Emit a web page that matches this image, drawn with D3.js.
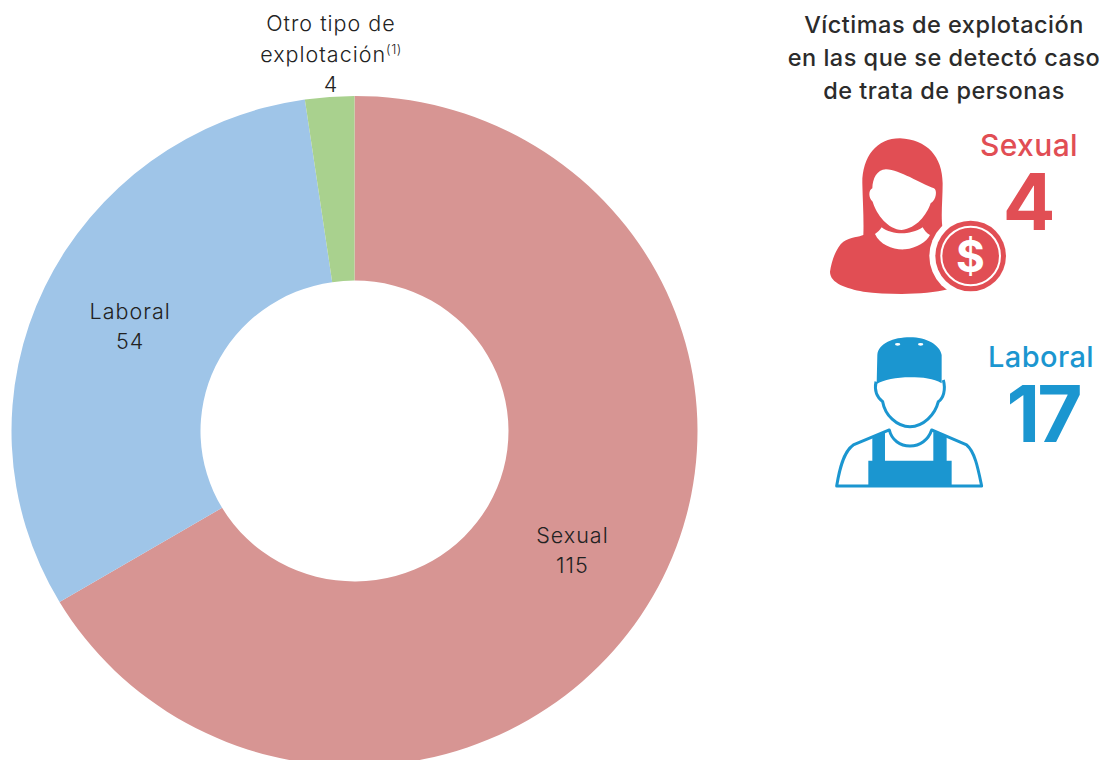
<!DOCTYPE html>
<html lang="es"><head><meta charset="utf-8">
<script src="https://cdn.jsdelivr.net/npm/d3@7"></script>
<style>html,body{margin:0;padding:0;background:#fff}svg{display:block}
text{font-family:Inter,"Noto Sans",sans-serif}</style></head><body>
<svg id="c" width="1100" height="760"></svg>
<script>
const categories = ["Sexual", "Laboral", "Otro tipo de explotación"];
const values = [115, 54, 4];
const sliceColors = ["#d79593", "#9fc5e8", "#a9d18e"];
const panelTitle = ["Víctimas de explotación", "en las que se detectó caso", "de trata de personas"];
const panelLabels = ["Sexual", "Laboral"];
const panelValues = [4, 17];
const panelColors = ["#e14e54", "#1b96d0"];

const svg = d3.select("#c");
const ink = "#222";
const cx = 354.5, cy = 431, R = 343, r0 = 154, squash = 0.977;

const pie = d3.pie().sort(null).value(d => d)(values);
const arc = d3.arc().innerRadius(r0).outerRadius(R);
const g = svg.append("g").attr("transform", `translate(${cx},${cy}) scale(1,${squash})`);
g.selectAll("path").data(pie).join("path")
  .attr("d", arc).attr("fill", (d, i) => sliceColors[i]);

const labelStyle = t => t.attr("text-anchor", "middle").attr("font-size", 21.5)
  .attr("font-weight", 300).attr("fill", ink).attr("letter-spacing", 1);
function label(x, y, lines) {
  const t = labelStyle(svg.append("text"));
  lines.forEach((l, i) => t.append("tspan").attr("x", x).attr("y", y + i * 30).text(l));
}
const cS = arc.centroid(pie[0]), cL = arc.centroid(pie[1]);
label(cx + cS[0] + 2, cy + cS[1] * squash - 8, [categories[0], values[0]]);
label(cx + cL[0], cy + cL[1] * squash - 8, [categories[1], values[1]]);
// top label
const topT = labelStyle(svg.append("text"));
topT.append("tspan").attr("x", 331).attr("y", 31).text("Otro tipo de");
const l2 = topT.append("tspan").attr("x", 331).attr("y", 62).text("explotación");
l2.append("tspan").attr("font-size", 13).attr("dy", -8).attr("letter-spacing", .5).text("(1)");
topT.append("tspan").attr("x", 331).attr("y", 92).text(values[2]);

// side panel title
const tt = svg.append("text").attr("text-anchor", "middle")
  .attr("font-size", 23.5).attr("font-weight", 500).attr("fill", "#2b2b2b").attr("letter-spacing", .5);
panelTitle.forEach((l, i) => tt.append("tspan").attr("x", 944).attr("y", 33 + i * 33).text(l));

// panel labels
svg.append("text").attr("x", 1029).attr("y", 156).attr("text-anchor", "middle")
  .attr("font-size", 30).attr("font-weight", 500).attr("fill", panelColors[0]).attr("letter-spacing", .4).text(panelLabels[0]);
svg.append("text").attr("x", 1029).attr("y", 230).attr("text-anchor", "middle")
  .attr("font-size", 78).attr("font-weight", 700).attr("fill", panelColors[0]).text(panelValues[0]);
svg.append("text").attr("x", 1041).attr("y", 367).attr("text-anchor", "middle")
  .attr("font-size", 29).attr("font-weight", 500).attr("fill", panelColors[1]).attr("letter-spacing", .4).text(panelLabels[1]);
svg.append("text").attr("x", 1043).attr("y", 442).attr("text-anchor", "middle")
  .attr("font-size", 78).attr("font-weight", 700).attr("fill", panelColors[1]).attr("letter-spacing", -3).text(panelValues[1]);

// woman icon
const w = svg.append("g").attr("transform", "translate(780,120) scale(0.3333)");
w.append("path").attr("fill", panelColors[0]).attr("d",
 "M150,455 C155,420 170,380 190,365 C210,352 240,350 250,345 C252,300 248,240 247,190 C247,110 290,55 360,55 C440,58 488,110 488,190 C488,240 482,290 488,325 L505,508 C440,525 330,525 250,515 C200,505 150,490 150,455 Z");
w.append("path").attr("fill", "#fff").attr("d",
 "M318,148 C290,150 278,175 277,205 C265,210 265,235 278,245 C290,285 325,328 365,330 C410,325 440,285 452,250 C470,240 472,210 462,205 C420,190 360,150 318,148Z");
w.append("path").attr("fill", "#fff").attr("d",
 "M305,322 C300,330 295,335 285,342 C300,375 340,390 375,388 C410,385 440,365 450,345 C440,340 432,330 428,322 C410,335 385,340 365,340 C345,340 320,335 305,322Z");
w.append("circle").attr("cx", 572).attr("cy", 408).attr("r", 124).attr("fill", "#fff");
w.append("circle").attr("cx", 572).attr("cy", 408).attr("r", 106).attr("fill", panelColors[0]);
w.append("circle").attr("cx", 572).attr("cy", 408).attr("r", 88).attr("fill", "none").attr("stroke", "#fff").attr("stroke-width", 6);
svg.append("text").attr("x", 970.5).attr("y", 272).attr("text-anchor", "middle")
  .attr("font-size", 44).attr("font-weight", 700).attr("fill", "#fff").text("$");

// worker icon
const m = svg.append("g").attr("transform", "translate(800,320) scale(0.3333)");
m.append("path").attr("fill", "none").attr("stroke", panelColors[1]).attr("stroke-width", 9).attr("stroke-linejoin", "round").attr("d",
 "M110,498 C118,450 130,395 160,375 L268,330 C275,360 300,378 330,378 C360,378 385,360 395,330 L500,375 C525,395 535,450 545,498 Z");
m.append("path").attr("fill", "none").attr("stroke", panelColors[1]).attr("stroke-width", 9).attr("d",
 "M228,185 C222,215 235,235 248,245 C255,285 290,320 330,320 C370,320 405,285 415,245 C430,235 438,210 430,180");
m.append("path").attr("fill", panelColors[1]).attr("d",
 "M205,498 V422 H217 V350 L255,335 V422 H400 V335 L440,350 V422 H455 V498Z");
m.append("path").attr("fill", panelColors[1]).attr("d",
 "M232,105 C235,70 280,52 330,52 C380,52 420,75 425,105 L425,190 C400,175 370,172 330,172 C290,172 250,180 230,192 Z");
[293, 362].forEach(x => m.append("ellipse").attr("cx", x).attr("cy", 73).attr("rx", 8).attr("ry", 4).attr("fill", "#fff"));
</script></body></html>
